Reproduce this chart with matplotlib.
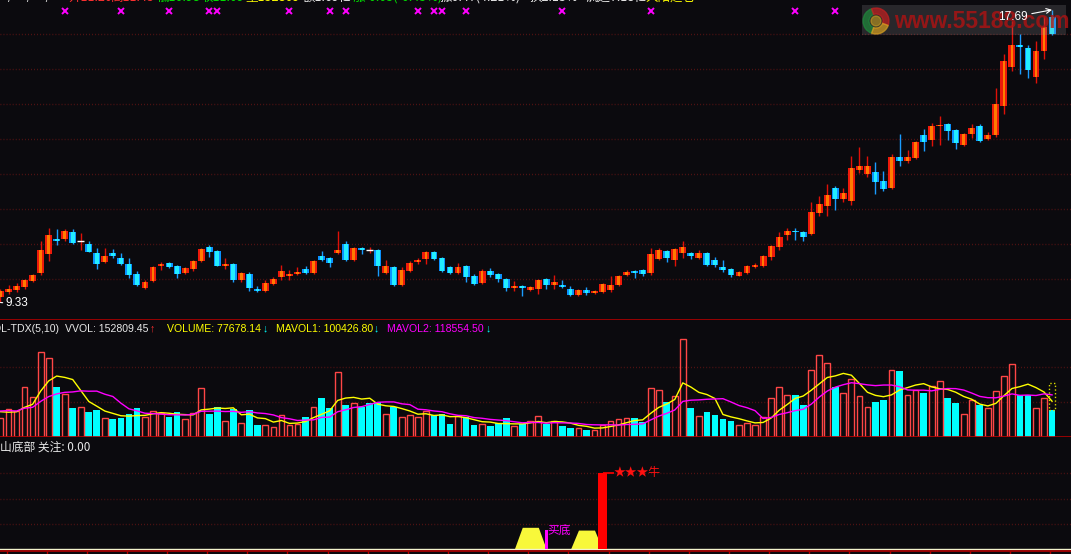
import numpy as np
import pandas as pd
import matplotlib
matplotlib.use("Agg")
import matplotlib.pyplot as plt
import matplotlib.transforms as mtransforms
from matplotlib import font_manager
from matplotlib.patches import Rectangle, Wedge, Circle

# ---- data (132 daily bars) ----
opens = [9.49, 9.63, 9.69, 9.78, 9.95, 10.18, 10.71, 11.14, 11.13, 11.33,
         11.09, 11.00, 10.75, 10.49, 10.75, 10.61, 10.43, 10.14, 9.74, 9.94,
         10.38, 10.47, 10.37, 10.16, 10.29, 10.51, 10.91, 10.80, 10.38, 10.43,
         9.97, 10.14, 9.71, 9.66, 9.86, 10.06, 10.09, 10.14, 10.29, 10.17,
         10.66, 10.61, 10.74, 11.00, 10.54, 10.89, 10.83, 10.83, 10.17, 10.34,
         9.83, 10.23, 10.49, 10.57, 10.77, 10.60, 10.34, 10.17, 10.37, 10.09,
         9.89, 10.23, 10.14, 10.00, 9.74, 9.80, 9.69, 9.71, 10.00, 9.83,
         9.83, 9.71, 9.54, 9.69, 9.60, 9.63, 9.69, 9.83, 10.11, 10.23,
         10.26, 10.17, 10.57, 10.80, 10.54, 10.74, 10.74, 10.60, 10.73, 10.54,
         10.35, 10.29, 10.09, 10.16, 10.35, 10.37, 10.62, 10.92, 11.26, 11.37,
         11.34, 11.29, 11.89, 12.09, 12.60, 12.29, 12.23, 13.11, 13.01, 13.06,
         12.80, 12.60, 13.49, 13.38, 13.47, 14.11, 13.97, 14.37, 14.43, 14.26,
         13.83, 14.14, 14.37, 14.00, 14.11, 14.94, 16.06, 16.69, 16.60, 15.77,
         16.51, 17.49]
closes = [9.67, 9.72, 9.81, 9.97, 10.11, 10.83, 11.26, 11.09, 11.37, 11.04,
          11.09, 10.77, 10.43, 10.66, 10.66, 10.43, 10.11, 9.83, 9.91, 10.35,
          10.44, 10.35, 10.14, 10.32, 10.51, 10.86, 10.77, 10.38, 10.44, 9.97,
          10.17, 9.74, 9.66, 9.89, 10.00, 10.23, 10.14, 10.21, 10.17, 10.51,
          10.54, 10.46, 10.83, 10.54, 10.89, 10.84, 10.83, 10.38, 10.37, 9.83,
          10.26, 10.46, 10.54, 10.77, 10.57, 10.23, 10.17, 10.34, 10.06, 9.86,
          10.23, 10.11, 10.00, 9.74, 9.80, 9.74, 9.77, 9.97, 9.83, 9.91,
          9.77, 9.54, 9.69, 9.60, 9.66, 9.86, 9.83, 10.09, 10.20, 10.17,
          10.14, 10.71, 10.83, 10.60, 10.86, 10.91, 10.66, 10.74, 10.40, 10.40,
          10.26, 10.11, 10.20, 10.37, 10.41, 10.66, 10.94, 11.19, 11.37, 11.34,
          11.20, 11.91, 12.15, 12.40, 12.29, 12.46, 13.17, 13.23, 13.23, 12.77,
          12.57, 13.49, 13.38, 13.49, 13.91, 13.91, 14.37, 14.38, 14.23, 13.89,
          14.14, 14.31, 13.94, 14.11, 15.00, 16.23, 16.69, 16.64, 15.97, 16.51,
          17.21, 17.00]
highs = [9.71, 9.82, 9.88, 9.99, 10.15, 11.09, 11.47, 11.43, 11.43, 11.43,
         11.32, 11.10, 10.89, 10.89, 10.86, 10.74, 10.60, 10.23, 9.97, 10.38,
         10.50, 10.50, 10.40, 10.35, 10.53, 10.89, 10.97, 10.82, 10.60, 10.46,
         10.21, 10.21, 9.80, 9.97, 10.06, 10.40, 10.26, 10.35, 10.37, 10.54,
         10.80, 10.64, 11.37, 11.09, 10.92, 10.91, 10.92, 10.86, 10.54, 10.37,
         10.34, 10.51, 10.60, 10.80, 10.80, 10.62, 10.37, 10.46, 10.40, 10.14,
         10.29, 10.32, 10.16, 10.02, 9.94, 9.83, 9.79, 9.99, 10.02, 10.11,
         9.97, 9.80, 9.71, 9.77, 9.69, 9.89, 10.10, 10.11, 10.26, 10.26,
         10.29, 10.89, 10.89, 10.83, 10.89, 11.09, 10.76, 10.83, 10.76, 10.63,
         10.54, 10.31, 10.23, 10.39, 10.46, 10.69, 10.97, 11.34, 11.47, 11.47,
         11.36, 12.20, 12.37, 12.71, 12.66, 12.60, 13.51, 13.77, 13.51, 13.34,
         13.10, 13.57, 14.14, 13.69, 13.94, 14.29, 14.46, 14.66, 14.46, 14.29,
         14.17, 14.43, 14.43, 14.20, 15.46, 16.43, 17.36, 17.00, 16.69, 16.80,
         17.51, 17.69]
lows = [9.33, 9.57, 9.64, 9.71, 9.92, 10.11, 10.52, 10.97, 11.08, 11.00,
        10.83, 10.77, 10.29, 10.45, 10.60, 10.40, 10.04, 9.80, 9.72, 9.92,
        10.26, 10.32, 10.03, 10.14, 10.23, 10.49, 10.63, 10.36, 10.30, 9.91,
        9.91, 9.65, 9.64, 9.64, 9.84, 9.97, 9.97, 10.12, 10.15, 10.15,
        10.52, 10.35, 10.72, 10.52, 10.52, 10.72, 10.73, 10.09, 10.14, 9.80,
        9.80, 10.20, 10.43, 10.43, 10.54, 10.20, 10.15, 10.15, 9.91, 9.84,
        9.87, 10.06, 9.91, 9.66, 9.66, 9.51, 9.66, 9.57, 9.71, 9.71,
        9.75, 9.52, 9.51, 9.54, 9.57, 9.61, 9.63, 9.81, 10.09, 10.03,
        10.09, 10.11, 10.55, 10.49, 10.37, 10.60, 10.57, 10.58, 10.38, 10.35,
        10.20, 10.06, 10.08, 10.14, 10.31, 10.35, 10.54, 10.82, 11.11, 11.11,
        11.10, 11.27, 11.80, 11.80, 11.97, 12.20, 12.11, 13.03, 12.92, 12.44,
        12.51, 12.57, 13.23, 13.32, 13.44, 13.66, 13.80, 13.83, 13.97, 13.71,
        13.80, 14.03, 13.91, 13.97, 14.06, 14.71, 15.95, 15.85, 15.74, 15.60,
        16.29, 16.97]
volumes = [55000, 80500, 73000, 143000, 115000, 243000, 226000, 143000, 124000, 84000,
           86000, 70000, 75700, 54800, 50000, 52900, 64300, 84000, 57600, 72900,
           69000, 55700, 70000, 52000, 69000, 140000, 67000, 86000, 45000, 78600,
           40500, 75700, 32900, 34800, 29000, 63000, 34800, 37600, 55700, 86000,
           110000, 84000, 186000, 90000, 95700, 86000, 95700, 101000, 67000, 86000,
           55700, 61400, 55700, 72900, 61400, 64300, 35700, 58600, 55700, 32900,
           35700, 30000, 38600, 52900, 30000, 35700, 44300, 58600, 35700, 47000,
           30000, 27000, 27000, 21400, 21400, 32900, 47000, 50000, 52900, 52900,
           41400, 140500, 134800, 101000, 117600, 278600, 81400, 58600, 70000, 61400,
           50000, 47000, 32900, 38600, 32900, 55700, 110000, 144000, 120500, 120500,
           90000, 192000, 235000, 212000, 143000, 126000, 166000, 117600, 86000, 98600,
           107000, 192000, 187000, 120500, 135000, 127000, 146000, 160500, 110000, 95700,
           66000, 106000, 92000, 84000, 132000, 175000, 209000, 119000, 119000, 83000,
           112000, 77678.14]
# bars before the visible window, only used to seed the moving averages
prev_volumes = [70000, 85000, 62000, 90000, 75000, 88000, 66000, 80000, 72000]
vvol_last = 152809.45

signal_marks = [8, 15, 21, 26, 27, 36, 41, 43, 52, 54, 55, 58, 70, 81, 99, 104]

# 山底部 indicator
fill_idx = [65, 66, 67, 72, 73, 74]
fill_val = [0.87, 0.87, 0.87, 0.76, 0.76, 0.76]
buy_idx, buy_val = 68, 0.76
bull_idx, bull_val = 75, 3.0

# ---- style ----
W, H = 1071, 554
BG = "#0b0a0e"
GRID = "#5e1414"
AXIS = "#b00000"
UP, UP_HI = "#ee1a0a", "#ff7c00"
DN, DN_HI = "#0a92ff", "#22eeff"
CYAN = "#00ffff"
VOL_RED = "#ff4646"
WHITE = "#e8e8e8"
YEL = "#ffff00"
MAG = "#ff00ff"
GREEN = "#00e000"
RED = "#ff3030"

names = {f.name for f in font_manager.fontManager.ttflist}
LAT = "Liberation Sans Narrow" if "Liberation Sans Narrow" in names else "Liberation Sans"
LAT_FS = 9 if LAT.endswith("Narrow") else 7.6
LATF = [LAT, "DejaVu Sans"]
CJK = ["Noto Sans CJK SC", "DejaVu Sans"]

fig = plt.figure(figsize=(W / 100, H / 100), dpi=100, facecolor=BG)
PIX = mtransforms.Affine2D().scale(1 / W, -1 / H).translate(0, 1) + fig.transFigure


def panel(top, bottom):
    a = fig.add_axes([0, 1 - bottom / H, 1, (bottom - top) / H], facecolor=BG)
    a.set_xlim(-0.06, 133.36)
    for s in a.spines.values():
        s.set_visible(False)
    a.spines["bottom"].set_visible(True)
    a.spines["bottom"].set_color(AXIS)
    a.spines["bottom"].set_linewidth(1.2)
    a.tick_params(left=False, bottom=False, labelleft=False, labelbottom=False)
    a.grid(axis="y", color=GRID, ls=(0, (0.6, 1.6)), lw=1)
    a.set_axisbelow(True)
    return a


ax = panel(0, 320)
axv = panel(320, 437)
axb = panel(437, 551)

o, c = np.array(opens), np.array(closes)
hi_, lo_ = np.array(highs), np.array(lows)
v = np.array(volumes, dtype=float)
idx = np.arange(len(o))
up = c > o
dn = c < o
flat = c == o

# ---- candles ----
ax.set_ylim(8.83, 17.97)
ax.set_yticks(range(10, 18))
body_lo = np.minimum(o, c)
body_h = np.maximum(np.abs(c - o), 0.03)
ax.vlines(idx, lo_, hi_, colors=np.where(dn, "#1a9cff", "#e01008"), lw=1, zorder=2)
ax.bar(idx[up], body_h[up], 0.86, body_lo[up], color=UP, lw=0, zorder=3)
ax.bar(idx[up], body_h[up], 0.34, body_lo[up], color=UP_HI, lw=0, zorder=3)
ax.bar(idx[dn], body_h[dn], 0.86, body_lo[dn], color=DN, lw=0, zorder=3)
ax.bar(idx[dn], body_h[dn], 0.46, body_lo[dn], color=DN_HI, lw=0, zorder=3)
ax.hlines(c[flat], idx[flat] - 0.45, idx[flat] + 0.45, color="white", lw=1, zorder=3)

ax.plot(signal_marks, [0.967] * len(signal_marks), transform=ax.get_xaxis_transform(),
        ls="none", marker="x", ms=4, mew=1.4, color=MAG, clip_on=False, zorder=4)

# watermark (semi-transparent, over the candles)
ax.add_patch(Rectangle((862, 5), 204, 30, transform=PIX, facecolor="#a0a0a0",
                       alpha=0.2, lw=0, zorder=6, clip_on=False))
for a1, a2, col in [(110, 250, "#1f8a3c"), (250, 20, "#c42020"), (20, 110, "#d8a020")]:
    ax.add_patch(Wedge((876, 21), 13, a1, a2, width=6, transform=PIX, color=col,
                       alpha=0.7, zorder=6, clip_on=False))
ax.add_patch(Circle((876, 21), 5, transform=PIX, color="#c8a020", alpha=0.6,
                    zorder=6, clip_on=False))
ax.text(894, 22, "www.55188.com", transform=PIX, ha="left", va="center",
        fontsize=16.5, fontweight="bold", family="Liberation Sans",
        color="#b01212", alpha=0.8, zorder=6, clip_on=False)

imax, imin = int(np.argmax(hi_)), int(np.argmin(lo_))
ax.annotate(f"{hi_[imax]:.2f}", xy=(imax, hi_[imax]), xytext=(-54, -7),
            textcoords="offset pixels", ha="left", va="center", color="white",
            fontsize=8.5, family="Liberation Sans", zorder=7,
            arrowprops=dict(arrowstyle="->", color="white", lw=0.8,
                            shrinkA=1, shrinkB=0, relpos=(1, 0.7)))
ax.annotate(f"{lo_[imin]:.2f}", xy=(imin, lo_[imin]), xytext=(5, -0.5),
            textcoords="offset pixels", ha="left", va="center", color="white",
            fontsize=8.5, family="Liberation Sans", zorder=7, annotation_clip=False,
            arrowprops=dict(arrowstyle="-", color="white", lw=0.8,
                            shrinkA=0, shrinkB=0, relpos=(0, 0.5)))

# ---- volume ----
axv.set_ylim(0, 334000)
axv.set_yticks([100000, 200000])
prev_close = np.r_[c[0], c[:-1]]
vol_up = up | (flat & (c >= prev_close))
axv.bar(idx[~vol_up], v[~vol_up], 0.84, color=CYAN, lw=0, zorder=2)
axv.bar(idx[vol_up], v[vol_up], 0.72, facecolor="none", edgecolor=VOL_RED, lw=1, zorder=2)
allv = pd.Series(prev_volumes + volumes, dtype=float)
n_prev = len(prev_volumes)
ma5 = allv.rolling(5).mean().to_numpy()[n_prev:]
ma10 = allv.rolling(10).mean().to_numpy()[n_prev:]
axv.plot(idx, ma5, color=YEL, lw=1, zorder=3)
axv.plot(idx, ma10, color=MAG, lw=1, zorder=3)
axv.add_patch(Rectangle((idx[-1] - 0.42, v[-1]), 0.84, vvol_last - v[-1], fill=False,
                        ls=":", ec="#d8d800", lw=1, zorder=3))

# ---- 山底部 ----
axb.set_ylim(-0.067, 4.44)
axb.set_yticks([1, 2, 3])
axb.set_xticks(np.arange(0.75, 133, 5))
axb.tick_params(bottom=True, direction="out", length=2.2, width=1, color=AXIS)
sig = np.zeros(len(idx))
sig[fill_idx] = fill_val
axb.fill_between(idx, 0, sig, color="#f8f83a", lw=0, zorder=2)
axb.axhline(0, color="#f2f2cc", lw=1, zorder=2)
axb.bar(buy_idx, buy_val, 0.33, color=MAG, lw=0, zorder=3)
axb.annotate("买底", (buy_idx, buy_val), xytext=(1, 0), textcoords="offset pixels",
             ha="left", va="center", color=MAG, fontsize=8.5, family=CJK, zorder=4)
axb.bar(bull_idx, bull_val, 1.12, color="#ff0000", lw=0, zorder=3)
axb.hlines(bull_val, bull_idx, bull_idx + 1.4, color="#ff0000", lw=1.2, zorder=3)
axb.annotate("★★★牛", (bull_idx, bull_val), xytext=(11.5, 0.5), textcoords="offset pixels",
             ha="left", va="center", color="#ff1010", fontsize=8.5, family=CJK, zorder=4)

# ---- header lines (top one is cut off in the screenshot) ----
top_line = [(64, "19/01/02/三", WHITE, "right"), (68, "开11.20", RED, "left"),
            (110, "高11.45", RED, "left"), (157, "低10.98", GREEN, "left"),
            (200, "收11.09", GREEN, "left"), (245, "量152809", YEL, "left"),
            (303, "额1.69亿", WHITE, "left"), (353, "涨-0.05(-0.45%)", GREEN, "left"),
            (440, "振0.47(4.21%)", WHITE, "left"), (530, "换2.13%", WHITE, "left"),
            (585, "流通7.18亿", WHITE, "left"), (645, "大阳建仓", YEL, "left")]
for x, s, col, ha in top_line:
    fig.text(x, -3, s, transform=PIX, ha=ha, va="center", color=col,
             fontsize=9, family=CJK)

vol_line = [(60, "VOL-TDX(5,10)", WHITE, "right"), (65, "VVOL: 152809.45", WHITE, "left"),
            (150, "↑", RED, "left"), (167, "VOLUME: 77678.14", YEL, "left"),
            (263, "↓", CYAN, "left"), (276, "MAVOL1: 100426.80", YEL, "left"),
            (374, "↓", CYAN, "left"), (387, "MAVOL2: 118554.50", MAG, "left"),
            (486, "↓", CYAN, "left")]
for x, s, col, ha in vol_line:
    fig.text(x, 328.5, s, transform=PIX, ha=ha, va="center", color=col,
             fontsize=LAT_FS, family=LATF)

fig.text(0, 447.5, "山底部 关注: 0.00", transform=PIX, ha="left", va="center",
         color=WHITE, fontsize=8.5, family=CJK)

fig.savefig("out.png", dpi=100, facecolor=BG)
